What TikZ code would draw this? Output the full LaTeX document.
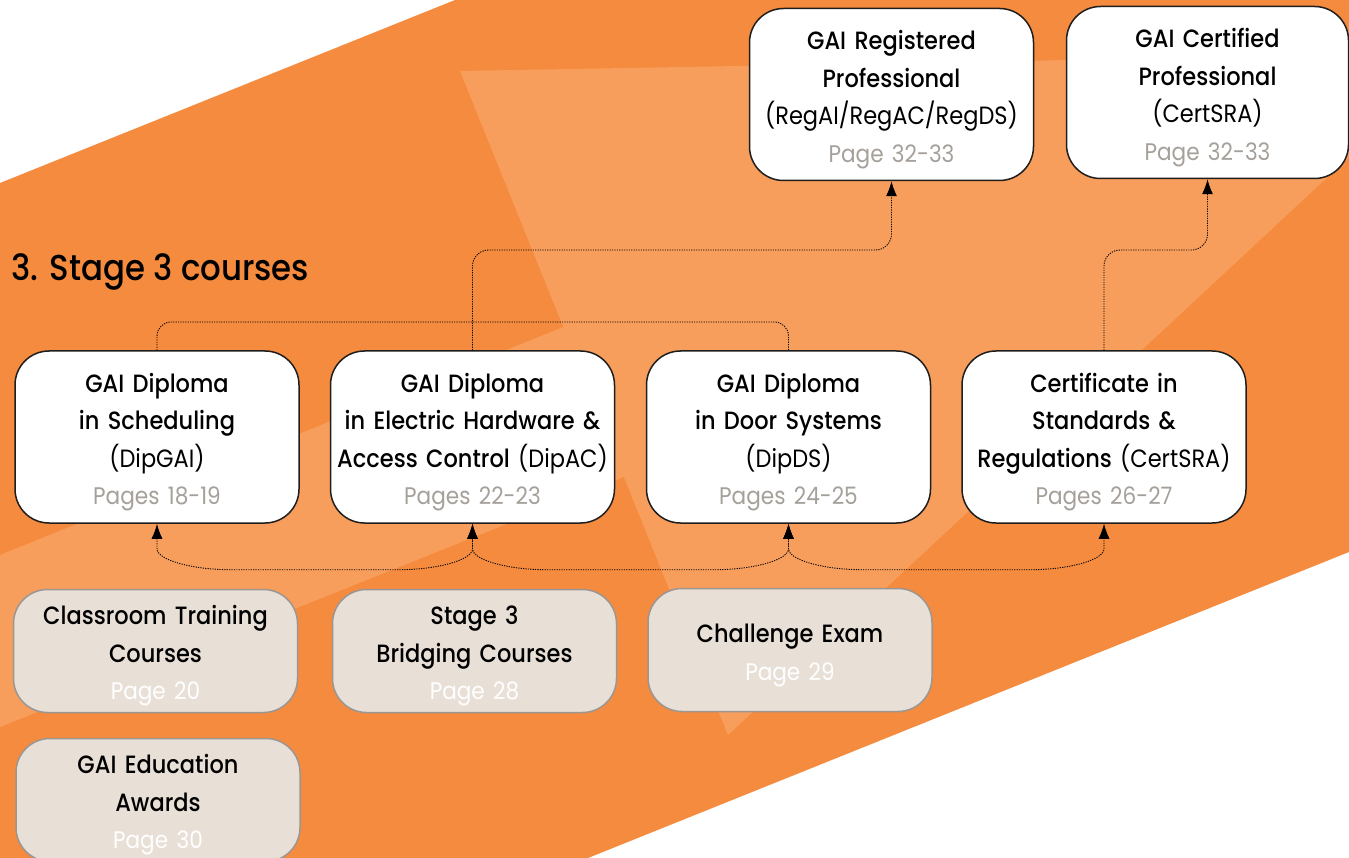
\documentclass[tikz,border=0pt]{standalone}
\usepackage{fontspec}
\setmainfont{Poppins}[UprightFont={* Medium},FakeStretch=0.9]
\newfontfamily\gairegular{Poppins}[FakeStretch=0.9]
\usetikzlibrary{arrows.meta,calc}
\definecolor{orDark}{RGB}{245,139,62}
\definecolor{orLight}{RGB}{248,158,92}
\definecolor{beigeBox}{RGB}{232,223,215}
\definecolor{beigeLine}{RGB}{155,150,146}
\definecolor{pageGrey}{RGB}{166,160,154}
\definecolor{boxLine}{RGB}{30,30,30}
\newcommand{\gaistrut}{\rule{0pt}{29pt}}
\newcommand{\gaisub}[1]{{\gairegular\fontsize{25}{37.5}\selectfont #1}}
\newcommand{\gaipg}[1]{{\gairegular\fontsize{24}{37.5}\selectfont\color{pageGrey}#1}}
\newcommand{\gaipgw}[1]{{\gairegular\fontsize{24}{37.5}\selectfont\color{white}#1}}
\begin{document}
\begin{tikzpicture}[x=1pt,y=-1pt,
  basebox/.style={line width=1.5pt, rounded corners=34pt, inner sep=0pt, align=center,
    font=\fontsize{25}{37.5}\selectfont},
  whitebox/.style={basebox, draw=boxLine, fill=white, minimum width=284pt, minimum height=172pt, text width=282pt},
  beigebox/.style={basebox, draw=beigeLine, fill=beigeBox, minimum width=284pt, minimum height=123pt, text width=282pt},
  conn/.style={line width=0.9pt, dash pattern=on 1.2pt off 1.2pt, black},
  tip/.style={-{Latex[length=15pt,width=11pt]}},
  tips/.style={{Latex[length=15pt,width=11pt]}-{Latex[length=15pt,width=11pt]}}
]
\useasboundingbox (0,0) rectangle (1349,858);
\clip (0,0) rectangle (1349,858);
% background
\fill[white] (0,0) rectangle (1349,858);
\fill[orDark] (0,183) -- (455,0) -- (1349,0) -- (1349,552) -- (588,858) -- (0,858) -- cycle;
\fill[orLight] (460,71) -- (1461,53) -- (728,735) -- cycle;
\fill[orLight] (0,555) -- (563.3,327) -- (623.9,477) -- (0,727) -- cycle;

% title
\node[anchor=base west, inner sep=0pt, font=\fontsize{36}{40}\selectfont] (title) at (11,281) {3. Stage 3 courses};

% top row
\node[whitebox] (reg) at (891.5,94.5) {\gaistrut GAI Registered\\Professional\\\gaisub{(RegAI/RegAC/RegDS)}\\\gaipg{Page 32-33}};
\node[whitebox, minimum width=282pt, text width=280pt] (cert) at (1207.5,92.5) {\gaistrut GAI Certified\\Professional\\\gaisub{(CertSRA)}\\\gaipg{Page 32-33}};

% middle row
\node[whitebox] (dipgai) at (157,437) {\gaistrut GAI Diploma\\in Scheduling\\\gaisub{(DipGAI)}\\\gaipg{Pages 18-19}};
\node[whitebox] (dipac) at (472.5,437) {\gaistrut GAI Diploma\\in Electric Hardware \&\\Access Control \gaisub{(DipAC)}\\\gaipg{Pages 22-23}};
\node[whitebox] (dipds) at (788.5,437) {\gaistrut GAI Diploma\\in Door Systems\\\gaisub{(DipDS)}\\\gaipg{Pages 24-25}};
\node[whitebox] (certsra) at (1104,437) {\gaistrut Certificate in\\Standards \&\\Regulations \gaisub{(CertSRA)}\\\gaipg{Pages 26-27}};

% bottom row
\node[beigebox] (classroom) at (155.5,651) {\gaistrut Classroom Training\\Courses\\\gaipgw{Page 20}};
\node[beigebox] (bridging) at (474.5,651) {\gaistrut Stage 3\\Bridging Courses\\\gaipgw{Page 28}};
\node[beigebox] (challenge) at (790,650) {\gaistrut Challenge Exam\\\gaipgw{Page 29}};
\node[beigebox] (awards) at (158,800) {\gaistrut GAI Education\\Awards\\\gaipgw{Page 30}};

% connectors above
\coordinate (lvlA) at (0,250);
\coordinate (lvlB) at (0,322);
\draw[conn, rounded corners=14pt] (dipgai.north) |- (dipds.north |- lvlB) -- (dipds.north);
\draw[conn, tip, rounded corners=16pt] (dipac.north) |- (reg.south |- lvlA) -- (reg.south);
\draw[conn, tip, rounded corners=16pt] (certsra.north) |- (cert.south |- lvlA) -- (cert.south);

% bus below
\draw[conn, tips] (dipgai.south) -- ++(0,25) .. controls +(0,11) and +(-41,0) .. ++(75,21)
  -- ($(dipac.south)+(-75,46)$) .. controls +(41,0) and +(0,11) .. ($(dipac.south)+(0,25)$) -- (dipac.south);
\draw[conn, tips] (dipac.south) -- ++(0,25) .. controls +(0,11) and +(-41,0) .. ++(75,21)
  -- ($(dipds.south)+(-75,46)$) .. controls +(41,0) and +(0,11) .. ($(dipds.south)+(0,25)$) -- (dipds.south);
\draw[conn, tips] (dipds.south) -- ++(0,25) .. controls +(0,11) and +(-41,0) .. ++(75,21)
  -- ($(certsra.south)+(-75,46)$) .. controls +(41,0) and +(0,11) .. ($(certsra.south)+(0,25)$) -- (certsra.south);
\end{tikzpicture}
\end{document}
